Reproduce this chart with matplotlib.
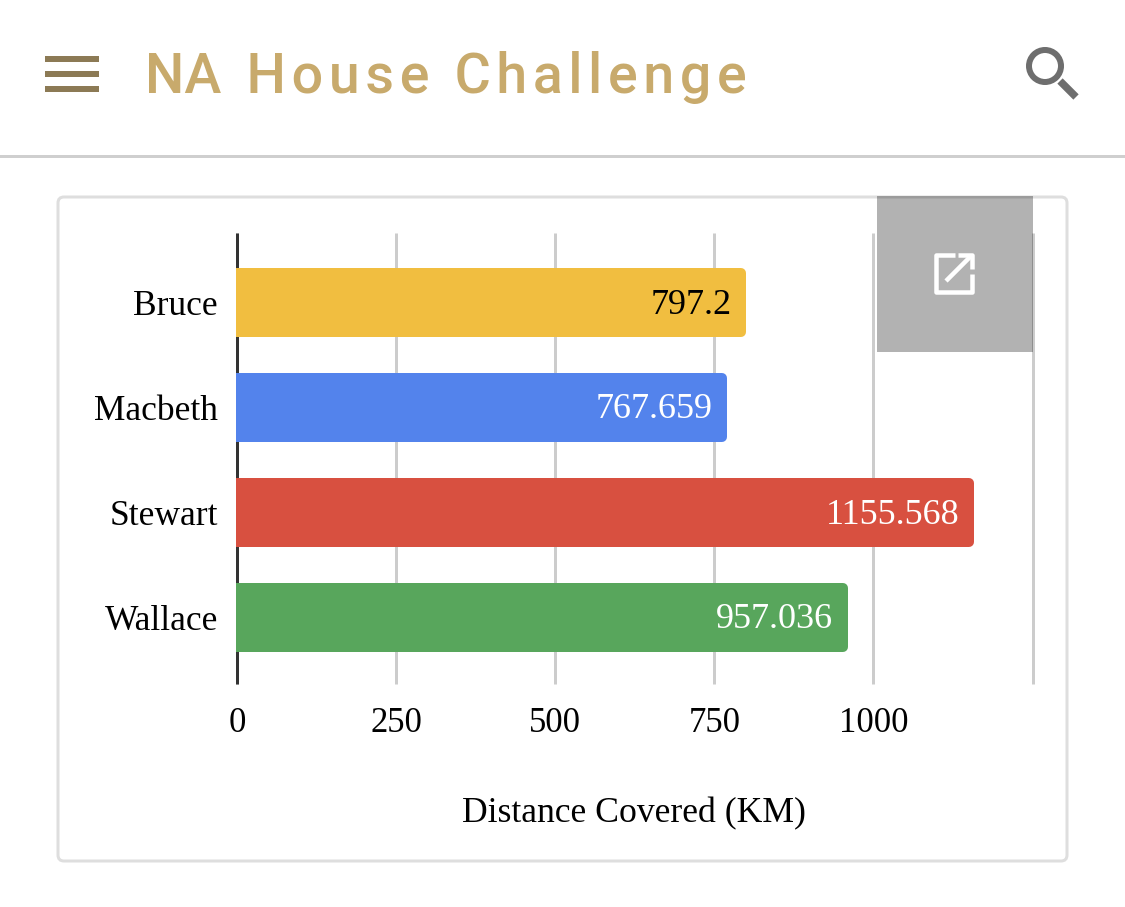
import matplotlib
matplotlib.use("Agg")
import matplotlib.pyplot as plt
from matplotlib.patches import FancyBboxPatch, Rectangle, Circle
from matplotlib.lines import Line2D
from matplotlib.transforms import Affine2D, IdentityTransform

houses = ["Bruce", "Macbeth", "Stewart", "Wallace"]
distances = [797.2, 767.659, 1155.568, 957.036]
labels = ["797.2", "767.659", "1155.568", "957.036"]
colors = ["#F1BE40", "#5383EC", "#D85040", "#58A65C"]
label_colors = ["black", "white", "white", "white"]
ticks = [0, 250, 500, 750, 1000, 1250]
tick_labels = ["0", "250", "500", "750", "1000", ""]
title = "NA House Challenge"

W, H = 1125, 907
px = 0.72  # points per pixel at dpi 100
SERIF = "Liberation Serif"
fig = plt.figure(figsize=(W / 100, H / 100), dpi=100, facecolor="white")
bg = fig.add_axes([0, 0, 1, 1])
bg.set_xlim(0, W); bg.set_ylim(H, 0); bg.axis("off")

# header
for y in (59, 74, 89):
    bg.add_patch(Rectangle((45, y - 3), 54, 6, color="#8C7A55", lw=0))
spaced = title[:2] + "\u200a" + "\u200a".join(title[2:])
bg.text(145, 93, spaced, color="#C8AA6C", fontsize=40,
        family=["Roboto", "DejaVu Sans"], fontweight="medium", va="baseline", ha="left")
bg.add_patch(Circle((1045, 66), 16, fill=False, ec="#6E6E6E", lw=6 * px))
bg.add_line(Line2D([1060, 1076], [81, 97], color="#6E6E6E", lw=7.5 * px,
                   solid_capstyle="butt"))
bg.add_line(Line2D([0, W], [156, 156], color="#CFCFCF", lw=3 * px))

# card
bg.add_patch(FancyBboxPatch((58, 197), 1009, 664, boxstyle="round,pad=0,rounding_size=6",
                            fc="white", ec="#DEDEDE", lw=3 * px))

# chart
x0, x1 = 237, 1032.5
y0, y1 = 233, 684
row = 105
ax = fig.add_axes([x0 / W, 1 - y1 / H, (x1 - x0) / W, (y1 - y0) / H], zorder=2)
ax.patch.set_alpha(0)
ax.set_xlim(0, 1250)
ax.set_ylim((y1 - 302.5) / row, (y0 - 302.5) / row)
ax.grid(axis="x", color="#CCCCCC", lw=3 * px, clip_on=False, solid_capstyle="butt")
ax.set_axisbelow(True)
for s in ("top", "right", "bottom"):
    ax.spines[s].set_visible(False)
left = ax.spines["left"]
left.set_color("#333333")
left.set_linewidth(3 * px)
left.set_zorder(2)
left.set_capstyle("butt")

edge = 10  # px of stroke: gives the rounded corners
bars = ax.barh(range(4), distances, height=(69 - edge) / row, color=colors,
               edgecolor=colors, linewidth=edge * px, zorder=3)
clip = Rectangle((236, 0), W, H, transform=IdentityTransform())
for b in bars:
    b.set_joinstyle("round")
    b.set_transform(ax.transData + Affine2D().translate(-3.5, 0))
    b.set_clip_path(clip)

ax.set_yticks(range(4), houses)
ax.set_xticks(ticks, tick_labels)
ax.tick_params(length=0)
ax.tick_params(axis="x", pad=16.5, labelsize=25)
ax.tick_params(axis="y", pad=13.7, labelsize=25.5)
for t in ax.get_xticklabels() + ax.get_yticklabels():
    t.set_family(SERIF)
for i, (d, l, c) in enumerate(zip(distances, labels, label_colors)):
    ax.annotate(l, (d, i), xytext=(-9.3, -1.8), textcoords="offset points",
                ha="right", va="center", color=c, fontsize=26, family=SERIF, zorder=4)

# overlay button
top = fig.add_axes([0, 0, 1, 1], zorder=3)
top.set_xlim(0, W); top.set_ylim(H, 0); top.axis("off")
top.add_patch(Rectangle((877, 196), 156, 156, color="black", alpha=0.3, lw=0))
icon = dict(color="white", lw=4.5 * px, solid_joinstyle="round", solid_capstyle="butt")
top.plot([955, 936, 936, 972, 972], [255, 255, 292, 292, 274], **icon)
top.plot([946, 971], [281, 256], **icon)
top.plot([958, 972, 972], [255, 255, 269], **icon)

top.text(634.5, 814, "Distance Covered (KM)", fontsize=25.7, family=SERIF,
         ha="center", va="center", color="black")
fig.savefig("out.png", dpi=100)
